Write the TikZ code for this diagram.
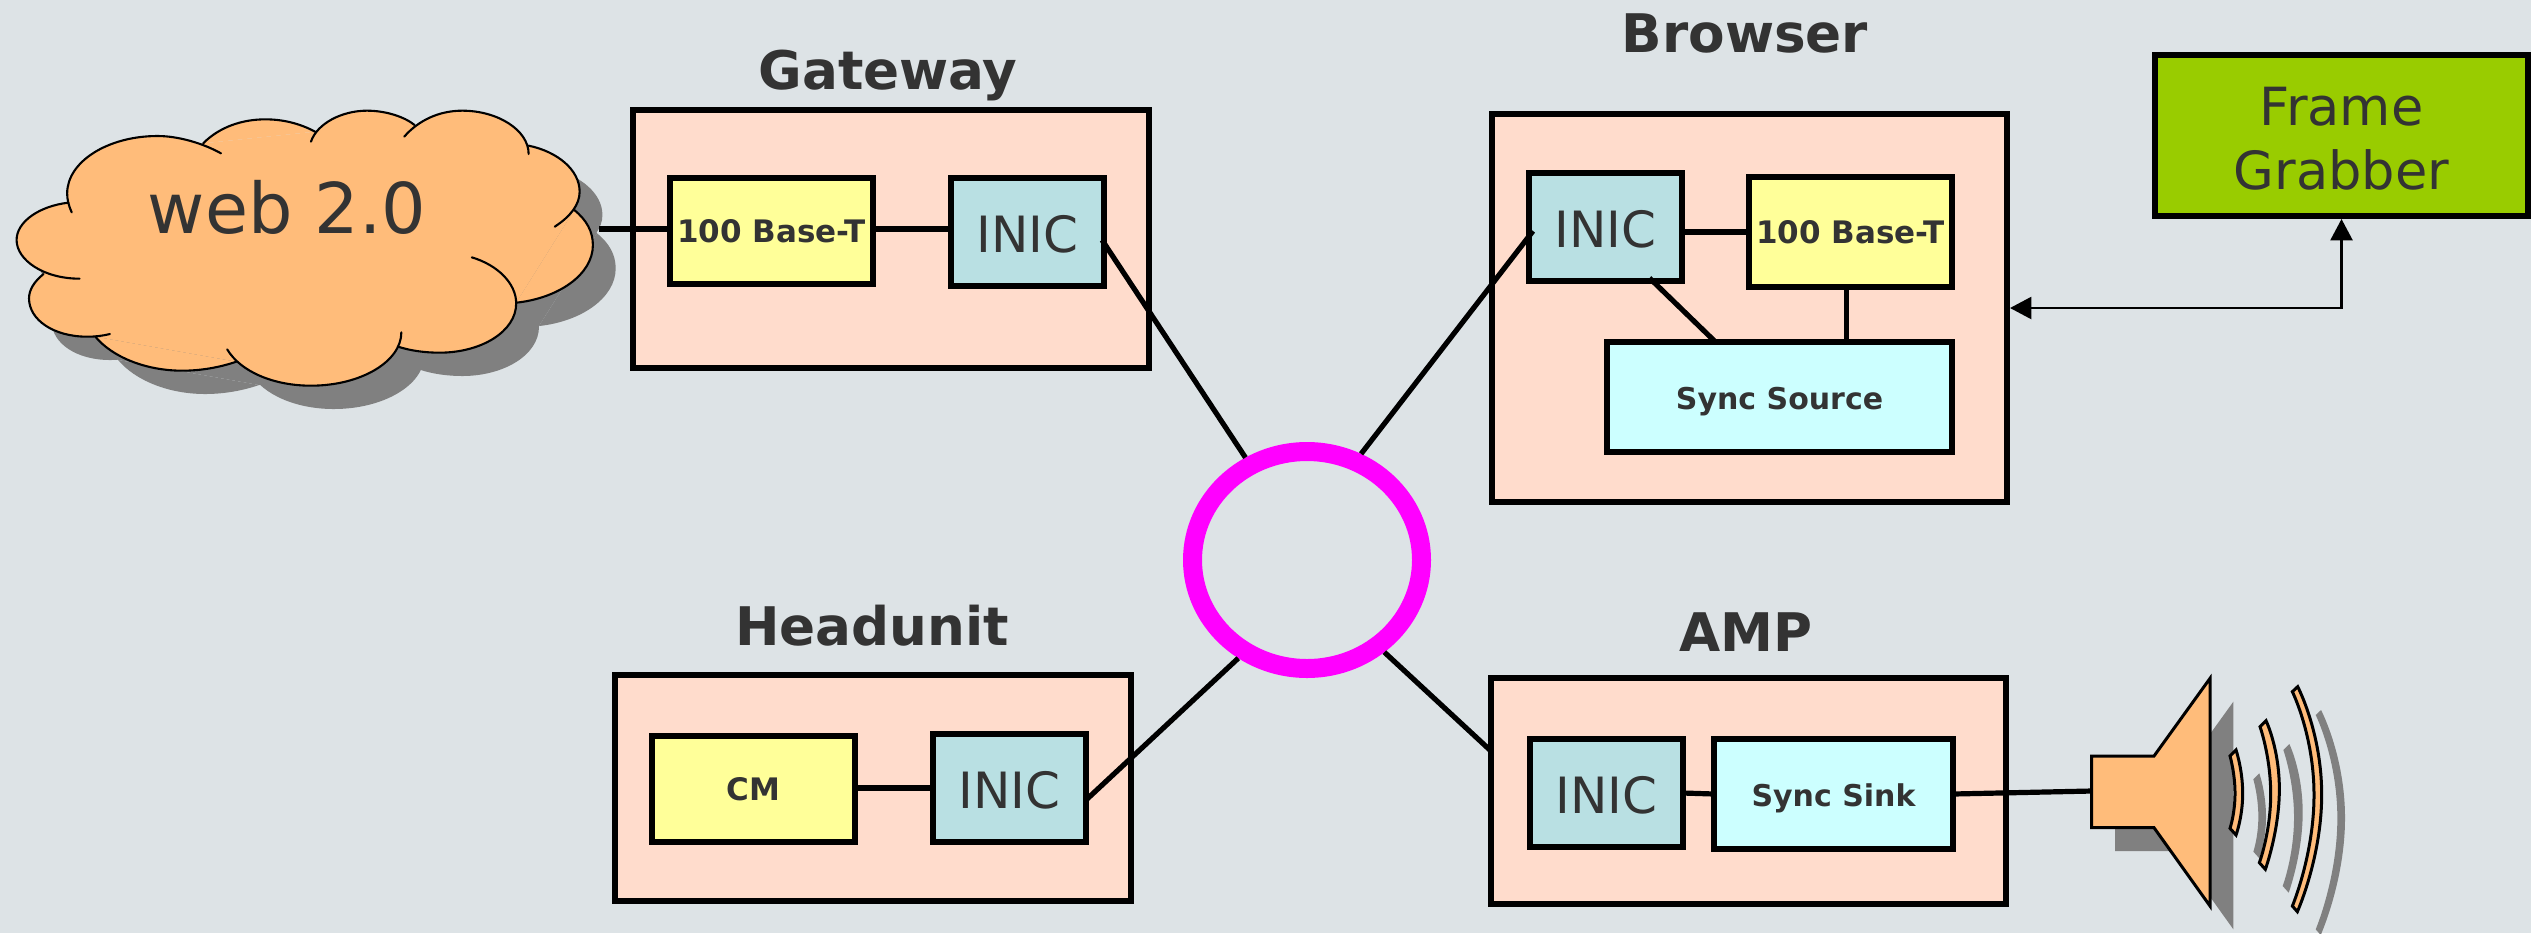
\documentclass[tikz,border=0pt]{standalone}
\usepackage{fontspec}
\setmainfont{DejaVu Sans}
\usetikzlibrary{shapes.geometric,arrows.meta}
\definecolor{bgc}{HTML}{DDE3E6}
\definecolor{peach}{HTML}{FFDCCC}
\definecolor{yel}{HTML}{FFFF99}
\definecolor{inicc}{HTML}{B9E0E3}
\definecolor{cyanc}{HTML}{CCFFFF}
\definecolor{grn}{HTML}{99CC00}
\definecolor{org}{HTML}{FFBC7A}
\definecolor{shad}{HTML}{808080}
\definecolor{txt}{HTML}{333333}
\definecolor{magentac}{HTML}{FF00FF}
\tikzset{
  blockbox/.style={draw=black,line width=2.6pt,outer sep=0pt,inner sep=0pt,text=txt,align=center},
  outerbox/.style={blockbox,fill=peach},
  inicbox/.style={blockbox,fill=inicc,minimum width=76.5pt,minimum height=54pt,text height=20pt,text depth=0pt,font=\fontsize{25}{30}\selectfont},
  yelbox/.style={blockbox,fill=yel,font=\fontsize{15.5}{18}\selectfont\bfseries},
  syncbox/.style={blockbox,fill=cyanc,text height=12pt,text depth=0pt,font=\fontsize{15}{18}\selectfont\bfseries},
  grabbox/.style={blockbox,fill=grn,font=\fontsize{26.3}{32}\selectfont},
  titlelabel/.style={text=txt,font=\fontsize{26.6}{30}\selectfont\bfseries,inner sep=0pt},
  wire/.style={draw=black,line width=2.6pt},
  thinwire/.style={draw=black,line width=1.3pt,{Triangle[length=10.7pt,width=11pt]}-{Triangle[length=10.7pt,width=11pt]}},
  ring/.style={ellipse,draw=magentac,line width=9.5pt,minimum width=114.5pt,minimum height=108.5pt,inner sep=0pt},
  outl/.style={draw=black,line width=1.05pt,line cap=round},
  speakerline/.style={draw=black,line width=1.5pt,line join=miter}
}
% the cloud's lobes: #1 path options, #2 what ends each path
\newcommand{\cloudlobes}[2]{%
  \path[#1] (173,397) .. controls (165,375) and (162,358) .. (162,340) .. controls (162,245) and (260,168) .. (380,168) .. controls (430,168) and (490,190) .. (533,220) #2;
  \path[#1] (490,190) .. controls (530,140) and (585,118) .. (640,118) .. controls (690,118) and (730,135) .. (760,155) #2;
  \path[#1] (750,185) .. controls (765,130) and (825,92) .. (885,92) .. controls (930,92) and (975,110) .. (1000,135) #2;
  \path[#1] (975,170) .. controls (1010,120) and (1060,92) .. (1115,92) .. controls (1200,92) and (1275,150) .. (1275,222) #2;
  \path[#1] (1275,197) .. controls (1345,215) and (1398,270) .. (1398,335) .. controls (1398,375) and (1375,410) .. (1338,440) #2;
  \path[#1] (1385,390) .. controls (1415,420) and (1430,455) .. (1430,495) .. controls (1430,585) and (1345,655) .. (1245,668) #2;
  \path[#1] (1138,532) .. controls (1200,555) and (1245,610) .. (1245,670) .. controls (1245,755) and (1160,818) .. (1060,818) .. controls (1025,818) and (990,812) .. (960,800) #2;
  \path[#1] (968,757) .. controls (968,845) and (870,917) .. (750,917) .. controls (660,917) and (580,875) .. (548,808) #2;
  \path[#1] (570,845) .. controls (530,862) and (485,872) .. (440,872) .. controls (350,872) and (270,830) .. (230,770) #2;
  \path[#1] (265,762) .. controls (245,768) and (230,770) .. (210,770) .. controls (130,770) and (70,720) .. (70,655) .. controls (70,630) and (82,605) .. (105,582) #2;
  \path[#1] (192,596) .. controls (105,596) and (40,540) .. (40,480) .. controls (40,425) and (95,378) .. (165,368) #2;
}
\newcommand{\cloudfill}[1]{%
  \cloudlobes{fill=#1}{-- cycle}
  \fill[#1] (165,368)--(490,190)--(760,155)--(1000,135)--(1275,197)--(1385,390)--(1245,668)--(960,800)--(570,845)--(230,770)--(105,582)--cycle;
}
\newcommand{\speakerfill}[1]{%
  \fill[#1] (155,348)--(342,348)--(510,115)--(510,798)--(342,563)--(155,563)--cycle;
}
\newcommand{\speakerarcs}[1]{%
  \path[#1] plot[smooth,tension=1] coordinates {(588,330)(608,460)(588,585)} -- plot[smooth,tension=1] coordinates {(570,565)(585,460)(570,348)} -- cycle;
  \path[#1] plot[smooth,tension=1] coordinates {(678,242)(718,450)(676,688)} -- plot[smooth,tension=1] coordinates {(658,668)(692,465)(660,260)} -- cycle;
  \path[#1] plot[smooth,tension=1] coordinates {(773,140)(845,465)(772,815)} -- plot[smooth,tension=1] coordinates {(757,798)(822,465)(757,155)} -- cycle;
}
\begin{document}
\begin{tikzpicture}[x=0.5pt,y=-0.5pt]
\useasboundingbox (0,0) rectangle (2531,933);
\fill[bgc] (0,0) rectangle (2531,933);

% web cloud
\begin{scope}[x=0.20730pt,y=-0.16667pt,yshift=-40pt]
  \begin{scope}[shift={(55,70)}]
    \cloudfill{shad}
  \end{scope}
  \cloudfill{org}
  \cloudlobes{outl}{}
\end{scope}
\node[text=txt,font=\fontsize{35}{40}\selectfont,inner sep=0pt] (webtxt) at (287,207) {web 2.0};
\coordinate (webport) at (599,229);

% outer boxes
\node[outerbox,minimum width=258pt,minimum height=129pt] (gateway) at (891,239) {};
\node[outerbox,minimum width=258pt,minimum height=113pt] (headunit) at (873,788) {};
\node[outerbox,minimum width=257.5pt,minimum height=194pt] (browser) at (1749.5,308) {};
\node[outerbox,minimum width=257.5pt,minimum height=113pt] (amp) at (1748.5,791) {};

% titles
\node[titlelabel] (tgw) at (888,75) {Gateway};
\node[titlelabel] (tbr) at (1745,33) {Browser};
\node[titlelabel] (thu) at (872,626) {Headunit};
\node[titlelabel] (tam) at (1746,632) {AMP};

% inner boxes
\node[yelbox,minimum width=101.5pt,minimum height=53pt] (gw100) at (771.5,231) {100 Base-T};
\node[inicbox] (gwinic) at (1027.5,232) {INIC};
\node[inicbox] (brinic) at (1605.5,227) {INIC};
\node[yelbox,minimum width=101.5pt,minimum height=55pt] (br100) at (1850.5,232) {100 Base-T};
\node[syncbox,minimum width=172.5pt,minimum height=55pt] (srcsync) at (1779.5,397) {Sync Source};
\node[yelbox,minimum width=101.5pt,minimum height=53pt] (cm) at (753.5,789) {CM};
\node[inicbox] (huinic) at (1009.5,788) {INIC};
\node[inicbox] (ampinic) at (1606.5,793) {INIC};
\node[syncbox,minimum width=119.5pt,minimum height=55pt] (sink) at (1833.5,794) {Sync Sink};
\node[grabbox,minimum width=186.5pt,minimum height=80.5pt] (grab) at (2341.5,135.5) {\rule{0pt}{22.5pt}Frame\\Grabber};

% ring
\node[ring] (mostring) at (1307,560) {};

% speaker shapes
\coordinate (spk) at (2092,791);
\begin{scope}[shift={(2040,640)},x=0.16667pt,y=-0.16667pt]
  \begin{scope}[shift={(70,70)}]
    \speakerfill{shad}
    \speakerarcs{fill=shad}
  \end{scope}
  \speakerfill{org}
  \draw[speakerline] (155,348)--(342,348)--(510,115)--(510,798)--(342,563)--(155,563)--cycle;
  \speakerarcs{speakerline,fill=org}
\end{scope}

% connectors
\coordinate (gwlink) at (0,229);
\coordinate (brlink) at (0,232);
\coordinate (hulink) at (0,788);
\draw[wire] (webport) -- (webport -| gw100.west);
\draw[wire] (gwlink -| gw100.east) -- (gwlink -| gwinic.west);
\draw[wire] ([xshift=-1pt,yshift=-4pt]gwinic.east) -- (mostring.121);
\draw[wire] ([xshift=2pt,yshift=-2pt]brinic.west) -- (mostring.63);
\draw[wire] (brlink -| brinic.east) -- (brlink -| br100.west);
\draw[wire] ([xshift=-2pt]br100.south) -- ([xshift=-2pt]br100.south |- srcsync.north);
\draw[wire] ([xshift=22pt,yshift=1.5pt]brinic.south) -- ([xshift=-32pt]srcsync.north);
\draw[wire] ([yshift=-6pt]huinic.east) -- (mostring.235);
\draw[wire] (hulink -| cm.east) -- (hulink -| huinic.west);
\draw[wire] (mostring.310) -- ([yshift=20pt]amp.west);
\draw[wire] (ampinic.east) -- (sink.west);
\draw[wire] (sink.east) -- (spk);
\draw[thinwire] ([yshift=-1.5pt]grab.south) |- ([xshift=1.5pt]browser.east);
\end{tikzpicture}
\end{document}
